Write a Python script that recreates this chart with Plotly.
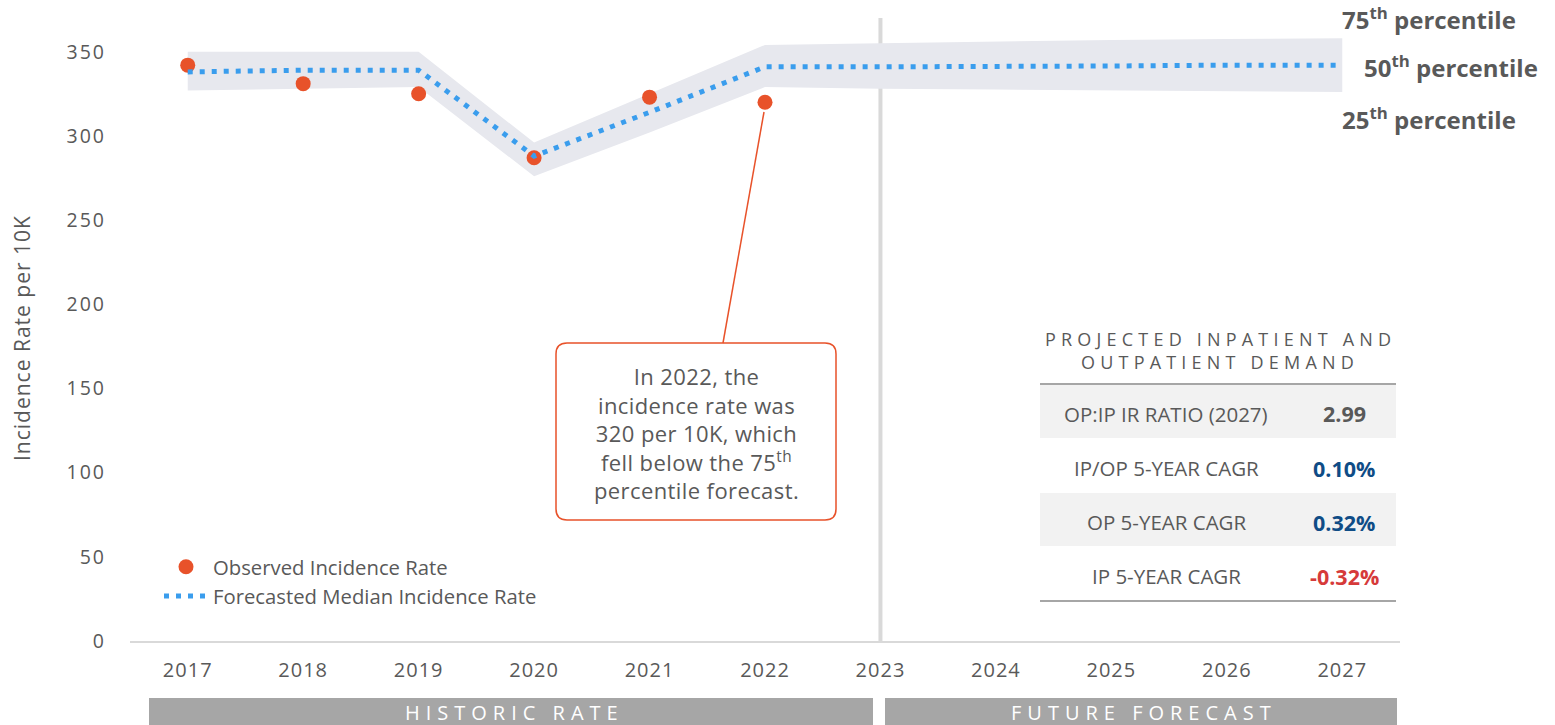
import plotly.graph_objects as go

# ---------------- data ----------------
years = [2017, 2018, 2019, 2020, 2021, 2022, 2023, 2024, 2025, 2026, 2027]
observed_years = [2017, 2018, 2019, 2020, 2021, 2022]
observed_rate = [342, 331, 325, 287, 323, 320]
median_rate = [338, 339, 339, 288, 314, 341, 341, 341, 341.5, 342, 342]
p75_rate = [350, 350, 350, 296, 325, 354, 355, 356, 357, 357.5, 358]
p25_rate = [327, 328, 329, 276, 302, 329, 328, 327.5, 327, 326.5, 326]
y_ticks = [0, 50, 100, 150, 200, 250, 300, 350]

table_title = ["PROJECTED INPATIENT AND", "OUTPATIENT DEMAND"]
table_labels = ["OP:IP IR RATIO (2027)", "IP/OP 5-YEAR CAGR", "OP 5-YEAR CAGR", "IP 5-YEAR CAGR"]
table_values = ["2.99", "0.10%", "0.32%", "-0.32%"]
table_value_colors = ["#595959", "#0f4c86", "#0f4c86", "#d63a3a"]

callout_lines = ["In 2022, the", "incidence rate was", "320 per 10K, which",
                 "fell below the 75<sup>th</sup>", "percentile forecast."]

# ---------------- layout constants ----------------
W, H = 1555, 725
ML, MR, MT, MB = 130, 155, 18, 84
PW, PH = W - ML - MR, H - MT - MB
GRAY = "#595959"
ORANGE = "#e8522a"
BLUE = "#3a9ded"
FONT = "Open Sans"


def px(x):
    return (x - ML) / PW


def py(y):
    return (H - MB - y) / PH


def spaced(t, s):
    return f'<span style="letter-spacing:{s}px">{t}</span>'


fig = go.Figure()

# band (25th-75th)
fig.add_trace(go.Scatter(x=years, y=p25_rate, mode="lines", line=dict(width=0, color="#e7e8ee"),
                         showlegend=False, hoverinfo="skip"))
fig.add_trace(go.Scatter(x=years, y=p75_rate, mode="lines", line=dict(width=0, color="#e7e8ee"),
                         fill="tonexty", fillcolor="#e7e8ee", showlegend=False, hoverinfo="skip"))

fig.add_trace(go.Scatter(x=observed_years, y=observed_rate, mode="markers",
                         marker=dict(size=15, color=ORANGE),
                         name="Observed Incidence Rate", legendgroup="a"))
fig.add_trace(go.Scatter(x=years, y=median_rate, mode="lines",
                         line=dict(color=BLUE, width=5, dash="5px,7px"),
                         name="Forecasted Median Incidence Rate", legendgroup="b"))

shapes = []
annotations = []

# y-axis title
annotations.append(dict(xref="paper", yref="paper", x=px(22), y=py(338),
                        text=spaced("Incidence Rate per 10K", 1), textangle=-90,
                        showarrow=False, xanchor="center", yanchor="middle",
                        font=dict(family=FONT, size=21, color=GRAY)))

# vertical separator at 2023
shapes.append(dict(type="line", xref="x", yref="paper", x0=2023, x1=2023, y0=0, y1=1,
                   line=dict(color="#d9d9d9", width=4), layer="below"))

# callout box (rounded)
bx0, bx1, by0, by1 = 556, 836, 343, 520
r = 11
path = (f"M {px(bx0 + r)},{py(by0)} L {px(bx1 - r)},{py(by0)} "
        f"Q {px(bx1)},{py(by0)} {px(bx1)},{py(by0 + r)} "
        f"L {px(bx1)},{py(by1 - r)} Q {px(bx1)},{py(by1)} {px(bx1 - r)},{py(by1)} "
        f"L {px(bx0 + r)},{py(by1)} Q {px(bx0)},{py(by1)} {px(bx0)},{py(by1 - r)} "
        f"L {px(bx0)},{py(by0 + r)} Q {px(bx0)},{py(by0)} {px(bx0 + r)},{py(by0)} Z")
shapes.append(dict(type="path", xref="paper", yref="paper", path=path,
                   line=dict(color=ORANGE, width=1.5), fillcolor="white"))
# connector from 2022 point to box
shapes.append(dict(type="line", xref="paper", yref="paper",
                   x0=px(764), y0=py(112), x1=px(723), y1=py(by0),
                   line=dict(color=ORANGE, width=1.5)))
annotations.append(dict(xref="paper", yref="paper", x=px(696), y=py(433),
                        text="<br>".join(spaced(t, 0.4) for t in callout_lines),
                        showarrow=False, xanchor="center", yanchor="middle", align="center",
                        font=dict(family=FONT, size=22, color=GRAY)))

# percentile labels
for t, xl, yc in [("75<sup>th</sup> percentile", 1340, 18),
                  ("50<sup>th</sup> percentile", 1362, 67),
                  ("25<sup>th</sup> percentile", 1340, 118)]:
    annotations.append(dict(xref="paper", yref="paper", x=px(xl), y=py(yc), text=f"<b>{t}</b>",
                            showarrow=False, xanchor="left", yanchor="middle",
                            font=dict(family=FONT, size=24, color=GRAY)))

# table
tx0, tx1 = 1040, 1396
tcx = (tx0 + tx1) / 2
for i, t in enumerate(table_title):
    annotations.append(dict(xref="paper", yref="paper", x=px(tcx + 2), y=py(339 + 23 * i),
                            text=spaced(t, 5.2), showarrow=False,
                            xanchor="center", yanchor="middle",
                            font=dict(family=FONT, size=18, color=GRAY)))
row_top = 385
row_h = 54
for i, (lab, val, col) in enumerate(zip(table_labels, table_values, table_value_colors)):
    y0 = row_top + i * row_h
    if i % 2 == 0:
        shapes.append(dict(type="rect", xref="paper", yref="paper", x0=px(tx0), x1=px(tx1),
                           y0=py(y0), y1=py(y0 + row_h - 1), line=dict(width=0),
                           fillcolor="#f2f2f2", layer="below"))
    yc = y0 + row_h / 2 + 2
    annotations.append(dict(xref="paper", yref="paper", x=px(1166), y=py(yc), text=lab,
                            showarrow=False, xanchor="center", yanchor="middle",
                            font=dict(family=FONT, size=20.5, color=GRAY)))
    annotations.append(dict(xref="paper", yref="paper", x=px(1344), y=py(yc), text=f"<b>{val}</b>",
                            showarrow=False, xanchor="center", yanchor="middle",
                            font=dict(family=FONT, size=21.5, color=col)))
for yl in [384, 601]:
    shapes.append(dict(type="line", xref="paper", yref="paper", x0=px(tx0), x1=px(tx1),
                       y0=py(yl), y1=py(yl), line=dict(color="#a6a6a6", width=2)))

# bottom period bars
for t, x0, x1 in [("HISTORIC RATE", 149, 873), ("FUTURE FORECAST", 885, 1397)]:
    shapes.append(dict(type="rect", xref="paper", yref="paper", x0=px(x0), x1=px(x1),
                       y0=py(698), y1=py(730), line=dict(width=0), fillcolor="#a6a6a6"))
    annotations.append(dict(xref="paper", yref="paper", x=px((x0 + x1) / 2 + 3), y=py(712),
                            text=spaced(t, 6), showarrow=False,
                            xanchor="center", yanchor="middle",
                            font=dict(family=FONT, size=20, color="white")))

fig.update_layout(
    width=W, height=H,
    margin=dict(l=ML, r=MR, t=MT, b=MB, autoexpand=False),
    paper_bgcolor="white", plot_bgcolor="white",
    font=dict(family=FONT, color=GRAY),
    shapes=shapes, annotations=annotations,
    legend=dict(x=px(159), y=py(547), xanchor="left", yanchor="top", itemwidth=44,
                font=dict(family=FONT, size=20.3, color=GRAY),
                bgcolor="rgba(0,0,0,0)", traceorder="grouped", tracegroupgap=0),
    xaxis=dict(range=[2016.5, 2027.5], tickvals=years,
               ticktext=[spaced(str(y), 1) for y in years],
               showgrid=False, zeroline=False, showline=True, linecolor="#d9d9d9", linewidth=2,
               ticks="", ticklabelstandoff=10, tickfont=dict(family=FONT, size=20, color=GRAY)),
    yaxis=dict(range=[0, 370], tickvals=y_ticks, ticktext=[spaced(str(v), 2) for v in y_ticks],
               showgrid=False, zeroline=False, showline=False,
               ticks="", ticklabelstandoff=23, tickfont=dict(family=FONT, size=19.5, color=GRAY)),
    showlegend=True,
)

fig.write_html("out.html", config={"displayModeBar": False},
               post_script="document.body.style.margin='0';document.body.style.overflow='hidden';")
